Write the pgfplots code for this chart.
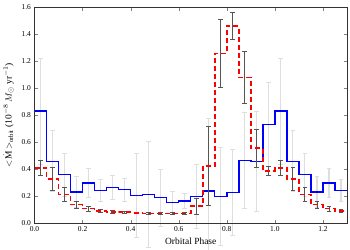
\documentclass[border=0pt]{standalone}
\usepackage{fontspec}
\setmainfont{Liberation Serif}
\usepackage{pgfplots}
\usepackage{pgfplotstable}
\pgfplotsset{compat=1.18}
\definecolor{darkbar}{RGB}{85,85,85}
\definecolor{lightbar}{RGB}{222,222,222}

% bin left edges, blue (mean), red (dashed)
\pgfplotstableread{
x      b      r
0.00   0.83   0.41
0.05   0.46   0.33
0.10   0.36   0.215
0.15   0.233  0.14
0.20   0.30   0.11
0.25   0.245  0.093
0.30   0.265  0.085
0.35   0.25   0.083
0.40   0.205  0.078
0.45   0.214  0.075
0.50   0.19   0.074
0.55   0.155  0.074
0.60   0.165  0.074
0.65   0.20   0.128
0.70   0.24   0.425
0.75   0.20   1.255
0.80   0.23   1.46
0.85   0.467  1.08
0.90   0.457  0.558
0.95   0.733  0.39
1.00   0.83   0.41
1.05   0.46   0.33
1.10   0.36   0.215
1.15   0.233  0.14
1.20   0.30   0.11
1.25   0.245  0.093
1.30   0.245  0.093
}\hist

% bin centres with errors
\pgfplotstableread{
x      b      be     r      re
0.025  0.83   0.39   0.41   0.058
0.075  0.46   0.225  0.33   0.085
0.125  0.36   0.157  0.215  0.055
0.175  0.233  0.115  0.14   0.025
0.225  0.30   0.11   0.11   0.02
0.275  0.245  0.083  0.093  0.012
0.325  0.265  0.09   0.085  0.01
0.375  0.25   0.085  0.083  0.01
0.425  0.205  0.31   0.078  0.006
0.475  0.214  0.39   0.075  0.005
0.525  0.19   0.21   0.074  0.005
0.575  0.155  0.085  0.074  0.005
0.625  0.165  0.055  0.074  0.005
0.675  0.20   0.235  0.128  0.06
0.725  0.24   0.535  0.425  0.29
0.775  0.20   0.365  1.255  0.25
0.825  0.23   0.32   1.46   0.10
0.875  0.467  0.357  1.08   0.19
0.925  0.457  0.37   0.558  0.14
0.975  0.733  0.31   0.39   0.035
1.025  0.83   0.39   0.41   0.058
1.075  0.46   0.225  0.33   0.085
1.125  0.36   0.157  0.215  0.055
1.175  0.233  0.115  0.14   0.025
1.225  0.30   0.11   0.11   0.02
1.275  0.245  0.083  0.093  0.012
}\errs

\begin{document}
\begin{tikzpicture}
\begin{axis}[
  set layers=standard,
  scale only axis,
  width=312.5bp, height=216.5bp,
  xmin=0, xmax=1.3, ymin=0, ymax=1.6,
  xtick={0,0.2,...,1.2},
  ytick={0,0.2,...,1.6},
  xticklabel style={/pgf/number format/.cd,fixed,fixed zerofill,precision=1},
  yticklabel style={/pgf/number format/.cd,fixed,fixed zerofill,precision=1},
  /pgf/number format/assume math mode=true,
  tick label style={font=\fontsize{7.5}{8}\selectfont},
  tick align=inside,
  major tick length=3.5bp,
  minor tick num=0,
  axis line style={line width=0.8pt, black!80},
  xlabel={Orbital Phase},
  ylabel={$<\!\dot{\mathrm{M}}\!>_{\mathrm{orbit}}$ (10$^{-8}\,M_{\odot}$ yr$^{-1}$)},
  label style={font=\fontsize{9.5}{11}\selectfont},
  x label style={at={(axis description cs:0.5,-0.083)}, anchor=center},
  y label style={at={(axis description cs:-0.083,0.5)}, anchor=center},
  clip=true,
]
% light grey error bars (blue series)
\addplot[on layer=axis background, forget plot, lightbar, line width=1.1pt,
  only marks, mark=text, text mark={},
  error bars/.cd, y dir=both, y explicit, error mark=-,
  error bar style={lightbar, line width=1.1pt, solid},
  error mark options={lightbar, line width=0.8pt, mark size=2.4bp, rotate=90, solid}]
  table[x=x, y=b, y error=be] {\errs};
% blue histogram
\addplot[on layer=axis grid, blue, line width=1.4pt, const plot mark left, mark=none]
  table[x=x, y=b] {\hist};
% dark error bars (red series)
\addplot[on layer=pre main, forget plot, darkbar, line width=0.9pt,
  only marks, mark=text, text mark={},
  error bars/.cd, y dir=both, y explicit, error mark=-,
  error bar style={darkbar, line width=0.9pt, solid},
  error mark options={darkbar, line width=0.8pt, mark size=2.4bp, rotate=90, solid}]
  table[x=x, y=r, y error=re] {\errs};
% red dashed histogram
\addplot[on layer=main, red, line width=1.6pt, dash pattern=on 5bp off 3bp, const plot mark left, mark=none]
  table[x=x, y=r] {\hist};
\end{axis}
\pgfresetboundingbox
\path[use as bounding box] (-34.5bp,-26.5bp) rectangle (315.5bp,223.5bp);
\end{tikzpicture}
\end{document}
